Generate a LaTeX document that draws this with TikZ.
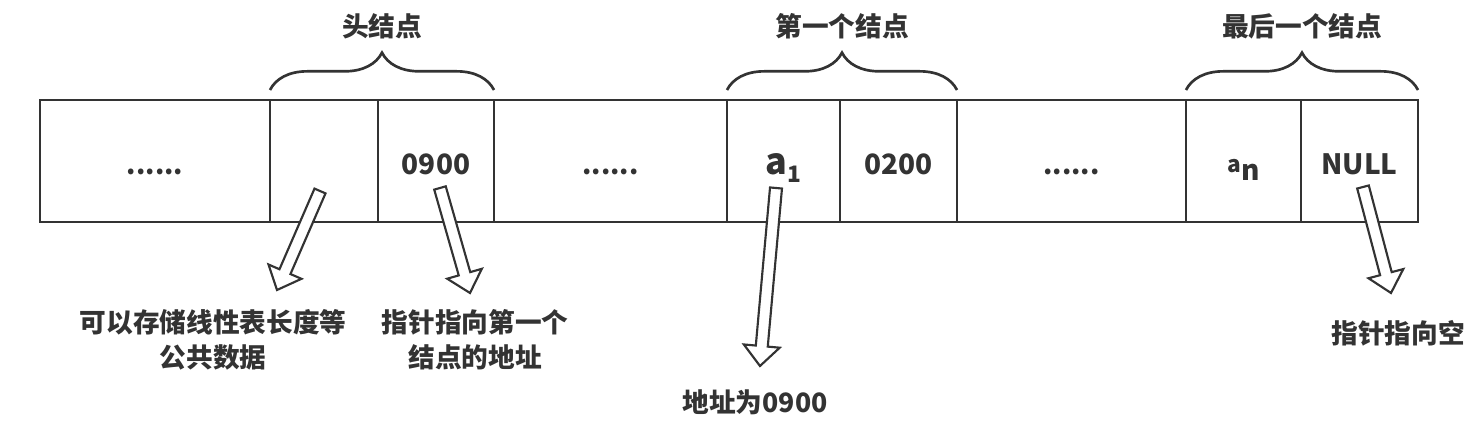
\documentclass[tikz,border=0pt]{standalone}
\usepackage{fontspec}
\setmainfont{Noto Sans CJK SC}
\usetikzlibrary{calc,positioning,decorations.pathreplacing}
\definecolor{ink}{HTML}{333333}
\tikzset{
  cell/.style={draw=ink, line width=2.2pt, minimum width=#1, minimum height=91.5pt,
    inner sep=0pt, outer sep=0pt, text height=22pt, text depth=1pt},
  brc/.style={draw=ink, line width=2pt, decorate, decoration={brace, amplitude=28pt}},
  bracelabel/.style={midway, above=34pt},
  note/.style={align=center},
  blockarrow/.style={draw=ink, line width=1.6pt, fill=white, line join=miter}
}
\begin{document}
\begin{tikzpicture}[x=0.75pt, y=-0.75pt, font=\fontsize{20}{26}\selectfont\bfseries, text=ink]
\useasboundingbox (0,0) rectangle (1472,423);
% memory row
\node[cell=172.5pt, anchor=west] (gap1) at (40,161) {......};
\node[cell=81pt, right=0pt of gap1] (hdata) {};
\node[cell=87pt, right=0pt of hdata] (hnext) {\fontsize{21}{21}\selectfont 0900};
\node[cell=174.75pt, right=0pt of hnext] (gap2) {......};
\node[cell=84.75pt, right=0pt of gap2] (fdata) {{\fontsize{27}{27}\selectfont a}\raisebox{-6pt}{\fontsize{17}{17}\selectfont 1}};
\node[cell=87.75pt, right=0pt of fdata] (fnext) {\fontsize{21}{21}\selectfont 0200};
\node[cell=171.75pt, right=0pt of fnext] (gap3) {......};
\node[cell=86.25pt, right=0pt of gap3] (ldata) {\raisebox{2pt}{\fontsize{17}{17}\selectfont a}\raisebox{-4pt}{\fontsize{21}{21}\selectfont n}};
\node[cell=87.75pt, right=0pt of ldata] (lnext) {\fontsize{21}{21}\selectfont NULL};
% braces
\draw[brc] ($(hdata.north west)+(0,-10)$) -- node[bracelabel] {头结点} ($(hnext.north east)+(0,-10)$);
\draw[brc] ($(fdata.north west)+(0,-10)$) -- node[bracelabel] {第一个结点} ($(fnext.north east)+(0,-10)$);
\draw[brc] ($(ldata.north west)+(0,-10)$) -- node[bracelabel] {最后一个结点} ($(lnext.north east)+(0,-10)$);
% notes
\node[note] (memo) at (213,340) {可以存储线性表长度等\\公共数据};
\node[note] (link) at (475,340) {指针指向第一个\\结点的地址};
\node[note] (addr) at (755,402) {地址为0900};
\node[note] (nulltip) at (1398,333) {指针指向空};
% hollow arrows
\coordinate (s1) at (320,191); \coordinate (t1) at (277,290);
\coordinate (s2) at (440,188); \coordinate (t2) at (470,293);
\coordinate (s3) at (776,188); \coordinate (t3) at (760,366);
\coordinate (s4) at (1363,187); \coordinate (t4) at (1391,293);
\foreach \s/\t in {s1/t1,s2/t2,s3/t3,s4/t4}{
  \coordinate (b) at ($(\t)!15pt!(\s)$);
  \draw[blockarrow] ($(\s)!4.5pt!90:(\t)$) -- ($(b)!4.5pt!90:(\t)$) -- ($(b)!13.5pt!90:(\t)$)
    -- (\t) -- ($(b)!13.5pt!-90:(\t)$) -- ($(b)!4.5pt!-90:(\t)$) -- ($(\s)!4.5pt!-90:(\t)$) -- cycle;
}
\end{tikzpicture}
\end{document}
